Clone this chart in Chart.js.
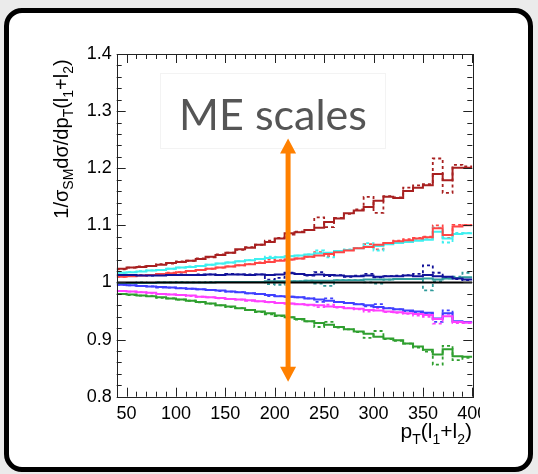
<!DOCTYPE html>
<html>
<head>
<meta charset="utf-8">
<script src="https://cdn.jsdelivr.net/npm/chart.js@4.4.1/dist/chart.umd.min.js"></script>
<style>
  html, body { margin: 0; padding: 0; }
  body { width: 538px; height: 474px; background: #ebebeb; position: relative; overflow: hidden;
         font-family: "Liberation Sans", Arial, sans-serif; }
  #frame { position: absolute; left: 4px; top: 8px; width: 519px; height: 454px;
           border: 5px solid #000; border-radius: 18px; background: #fff; }
  #plot { position: absolute; left: 0; top: 0; width: 480px; height: 474px; overflow: hidden; }
  #labelBox { position: absolute; left: 160px; top: 73px; width: 226px; height: 76px;
              border: 1px solid #f3f3f3; box-sizing: border-box; }
  #label { position: absolute; left: 160px; top: 89px; width: 226px; text-align: center;
           font-family: Lato, "Open Sans", sans-serif; font-size: 43px; line-height: 50px; color: #555; }
  #ytitle { position: absolute; left: -39px; top: 127px; width: 200px; text-align: center;
            font-size: 20px; line-height: 24px; transform: rotate(-90deg); white-space: nowrap; }
  #xtitle { position: absolute; right: 66px; top: 419px; font-size: 21px; line-height: 24px; white-space: nowrap; }
  sub { font-size: 14px; vertical-align: -5px; line-height: 0; }
  #xtitle sub { font-size: 14px; vertical-align: -6px; }
</style>
</head>
<body>
<div id="frame"></div>
<div id="labelBox"></div>
<div id="plot"><canvas id="chart" width="538" height="474"></canvas></div>
<div id="label">ME scales</div>
<div id="ytitle">1/σ<sub>SM</sub>dσ/dp<sub>T</sub>(l<sub>1</sub>+l<sub>2</sub>)</div>
<div id="xtitle">p<sub>T</sub>(l<sub>1</sub>+l<sub>2</sub>)</div>
<script>
// histogram binning: 36 bins of 10 GeV from 40 to 400
const binLow = 40;
const binWidth = 10;

const xTickVals = [50, 100, 150, 200, 250, 300, 350, 400];
const yTickVals = [0.8, 0.9, 1.0, 1.1, 1.2, 1.3, 1.4];

// ratio to SM, solid = nominal scale, dashed = varied
const darkRed = [1.024, 1.026, 1.027, 1.029, 1.031, 1.034, 1.036, 1.038, 1.041, 1.045, 1.048, 1.052,
  1.058, 1.061, 1.066, 1.071, 1.077, 1.086, 1.088, 1.092, 1.096, 1.106, 1.112, 1.121,
  1.126, 1.132, 1.143, 1.150, 1.148, 1.160, 1.166, 1.170, 1.190, 1.179, 1.201, 1.201];
const darkRedDash = [1.023, 1.026, 1.028, 1.029, 1.032, 1.033, 1.037, 1.038, 1.042, 1.044, 1.049, 1.052,
  1.057, 1.062, 1.066, 1.073, 1.078, 1.084, 1.089, 1.092, 1.114, 1.097, 1.113, 1.120,
  1.128, 1.150, 1.122, 1.151, 1.149, 1.166, 1.170, 1.172, 1.217, 1.157, 1.206, 1.203];

const red = [1.010, 1.011, 1.012, 1.013, 1.015, 1.016, 1.018, 1.020, 1.022, 1.024, 1.026, 1.028,
  1.030, 1.032, 1.034, 1.036, 1.038, 1.040, 1.042, 1.045, 1.047, 1.050, 1.053, 1.056,
  1.060, 1.062, 1.066, 1.069, 1.072, 1.074, 1.077, 1.079, 1.095, 1.083, 1.098, 1.100];
const redDash = [1.010, 1.011, 1.013, 1.013, 1.015, 1.017, 1.018, 1.020, 1.022, 1.024, 1.026, 1.028,
  1.030, 1.032, 1.035, 1.040, 1.039, 1.040, 1.042, 1.045, 1.053, 1.046, 1.053, 1.057,
  1.060, 1.067, 1.058, 1.069, 1.073, 1.076, 1.078, 1.080, 1.100, 1.078, 1.101, 1.101];

const cyan = [1.017, 1.018, 1.019, 1.021, 1.022, 1.024, 1.026, 1.027, 1.029, 1.031, 1.033, 1.035,
  1.037, 1.039, 1.041, 1.043, 1.044, 1.046, 1.047, 1.049, 1.051, 1.052, 1.055, 1.057,
  1.060, 1.063, 1.064, 1.067, 1.069, 1.071, 1.073, 1.075, 1.089, 1.077, 1.085, 1.086];
const cyanDash = [1.017, 1.018, 1.020, 1.021, 1.022, 1.024, 1.026, 1.028, 1.029, 1.031, 1.033, 1.035,
  1.037, 1.039, 1.041, 1.045, 1.044, 1.046, 1.047, 1.049, 1.056, 1.044, 1.055, 1.058,
  1.060, 1.069, 1.056, 1.067, 1.070, 1.072, 1.074, 1.076, 1.096, 1.070, 1.087, 1.087];

const navy = [1.013, 1.013, 1.012, 1.012, 1.012, 1.013, 1.013, 1.013, 1.013, 1.014, 1.013, 1.014,
  1.014, 1.013, 1.014, 1.013, 1.014, 1.016, 1.015, 1.013, 1.014, 1.013, 1.012, 1.011,
  1.011, 1.012, 1.010, 1.011, 1.011, 1.012, 1.011, 1.013, 1.011, 1.010, 1.007, 1.005];
const navyDash = [1.013, 1.012, 1.013, 1.012, 1.013, 1.013, 1.014, 1.013, 1.014, 1.014, 1.013, 1.015,
  1.014, 1.014, 1.014, 1.005, 1.008, 1.017, 1.015, 1.012, 1.018, 1.011, 1.013, 1.010,
  1.012, 1.015, 1.009, 1.011, 1.012, 1.013, 1.015, 1.030, 1.017, 1.008, 1.006, 1.004];

const teal = [0.999, 0.999, 0.999, 0.999, 1.000, 1.000, 1.000, 1.000, 1.000, 1.000, 1.001, 1.001,
  1.001, 1.001, 1.001, 1.002, 1.002, 1.002, 1.002, 1.003, 1.003, 1.003, 1.004, 1.004,
  1.004, 1.005, 1.005, 1.005, 1.006, 1.006, 1.006, 1.007, 1.005, 1.007, 1.008, 1.009];
const tealDash = [0.999, 0.999, 1.000, 0.999, 1.000, 1.000, 1.001, 1.000, 1.000, 1.001, 1.001, 1.001,
  1.001, 1.001, 1.001, 0.997, 0.996, 1.002, 1.002, 1.003, 0.998, 0.994, 1.004, 1.004,
  1.004, 1.000, 0.998, 1.005, 1.006, 1.006, 1.006, 0.986, 1.002, 1.007, 1.010, 1.017];

const sm = [1, 1, 1, 1, 1, 1, 1, 1, 1, 1, 1, 1, 1, 1, 1, 1, 1, 1,
  1, 1, 1, 1, 1, 1, 1, 1, 1, 1, 1, 1, 1, 1, 1, 1, 1, 1];

const blue = [0.996, 0.995, 0.994, 0.993, 0.992, 0.991, 0.990, 0.989, 0.988, 0.987, 0.986, 0.984,
  0.983, 0.981, 0.980, 0.978, 0.976, 0.975, 0.974, 0.972, 0.970, 0.968, 0.966, 0.964,
  0.962, 0.960, 0.957, 0.955, 0.953, 0.951, 0.949, 0.947, 0.937, 0.946, 0.932, 0.931];
const blueDash = [0.996, 0.995, 0.994, 0.993, 0.991, 0.991, 0.990, 0.989, 0.988, 0.987, 0.985, 0.984,
  0.983, 0.981, 0.980, 0.976, 0.976, 0.975, 0.974, 0.972, 0.966, 0.972, 0.966, 0.964,
  0.962, 0.958, 0.962, 0.955, 0.953, 0.950, 0.948, 0.946, 0.931, 0.951, 0.931, 0.930];

const magenta = [0.985, 0.984, 0.983, 0.982, 0.980, 0.979, 0.978, 0.977, 0.975, 0.974, 0.973, 0.971,
  0.970, 0.969, 0.967, 0.966, 0.964, 0.963, 0.962, 0.961, 0.960, 0.958, 0.957, 0.955,
  0.954, 0.952, 0.951, 0.949, 0.948, 0.946, 0.945, 0.943, 0.936, 0.941, 0.931, 0.930];
const magentaDash = [0.985, 0.984, 0.983, 0.981, 0.980, 0.979, 0.978, 0.976, 0.975, 0.974, 0.972, 0.971,
  0.970, 0.968, 0.967, 0.965, 0.964, 0.963, 0.962, 0.960, 0.957, 0.961, 0.956, 0.955,
  0.953, 0.949, 0.955, 0.948, 0.947, 0.945, 0.942, 0.940, 0.928, 0.945, 0.929, 0.929];

const green = [0.980, 0.979, 0.977, 0.976, 0.974, 0.972, 0.970, 0.968, 0.966, 0.963, 0.960, 0.958,
  0.955, 0.952, 0.949, 0.946, 0.942, 0.939, 0.936, 0.932, 0.929, 0.926, 0.922, 0.918,
  0.914, 0.910, 0.905, 0.902, 0.899, 0.893, 0.888, 0.882, 0.874, 0.883, 0.871, 0.870];
const greenDash = [0.980, 0.978, 0.977, 0.976, 0.973, 0.972, 0.970, 0.968, 0.965, 0.963, 0.960, 0.957,
  0.955, 0.952, 0.948, 0.944, 0.941, 0.939, 0.935, 0.932, 0.922, 0.931, 0.921, 0.918,
  0.913, 0.903, 0.915, 0.901, 0.898, 0.893, 0.886, 0.879, 0.856, 0.889, 0.864, 0.868];

// orange arrow annotation (data coords)
const arrowX = 213.5;
const arrowTop = 1.252;
const arrowBottom = 0.826;

function steps(vals) {
  const pts = vals.map((v, i) => ({x: binLow + i * binWidth, y: v}));
  pts.push({x: binLow + vals.length * binWidth, y: vals[vals.length - 1]});
  return pts;
}

function hist(vals, color, dashed, order) {
  return {
    data: steps(vals),
    borderColor: color,
    borderWidth: dashed ? 1.8 : 2,
    borderDash: dashed ? [3, 3] : [],
    stepped: true,
    pointRadius: 0,
    fill: false,
    order: order
  };
}

// ROOT-style frame: box with inward ticks on all four sides
const frameTicks = {
  id: 'frameTicks',
  afterDatasetsDraw(chart) {
    const {ctx, chartArea: a, scales: {x, y}} = chart;
    ctx.save();
    ctx.strokeStyle = '#222';
    ctx.lineWidth = 1;
    ctx.beginPath();
    for (let v = 40; v <= 400; v += 10) {
      const px = Math.round(x.getPixelForValue(v)) + 0.5;
      const len = v % 50 === 0 ? 9 : 5;
      ctx.moveTo(px, a.bottom); ctx.lineTo(px, a.bottom - len);
      ctx.moveTo(px, a.top); ctx.lineTo(px, a.top + len);
    }
    for (let k = 0; k <= 30; k++) {
      const v = 0.8 + k * 0.02;
      const py = Math.round(y.getPixelForValue(v)) + 0.5;
      const len = k % 5 === 0 ? 9 : 5;
      ctx.moveTo(a.left, py); ctx.lineTo(a.left + len, py);
      ctx.moveTo(a.right, py); ctx.lineTo(a.right - len, py);
    }
    ctx.stroke();
    ctx.strokeRect(Math.round(a.left) + 0.5, Math.round(a.top) + 0.5,
      Math.round(a.right - a.left), Math.round(a.bottom - a.top));

    // orange double arrow
    const ax = x.getPixelForValue(arrowX);
    const t = y.getPixelForValue(arrowTop);
    const b = y.getPixelForValue(arrowBottom);
    const head = 15, half = 8;
    ctx.fillStyle = '#ff8000';
    ctx.fillRect(ax - 2.5, t + head - 1, 5, b - t - 2 * head + 2);
    ctx.beginPath();
    ctx.moveTo(ax, t); ctx.lineTo(ax + half, t + head); ctx.lineTo(ax - half, t + head); ctx.closePath();
    ctx.moveTo(ax, b); ctx.lineTo(ax + half, b - head); ctx.lineTo(ax - half, b - head); ctx.closePath();
    ctx.fill();
    ctx.restore();
  }
};

const tickFont = {family: '"Liberation Sans", Arial, sans-serif', size: 18};

new Chart(document.getElementById('chart'), {
  type: 'line',
  data: {
    datasets: [
      hist(darkRedDash, '#a82020', true, 20),
      hist(redDash, '#ff4545', true, 19),
      hist(cyanDash, '#3ff0f0', true, 18),
      hist(navyDash, '#121299', true, 17),
      hist(tealDash, '#2f9a9a', true, 16),
      hist(blueDash, '#4040ff', true, 15),
      hist(magentaDash, '#ff40ff', true, 14),
      hist(greenDash, '#2f9f2f', true, 13),
      hist(cyan, '#3ff0f0', false, 12),
      hist(red, '#ff4545', false, 11),
      hist(darkRed, '#a82020', false, 10),
      hist(teal, '#2f9a9a', false, 9),
      hist(blue, '#4040ff', false, 8),
      hist(magenta, '#ff40ff', false, 7),
      hist(green, '#2f9f2f', false, 6),
      hist(sm, '#000000', false, 5),
      hist(navy, '#121299', false, 4)
    ]
  },
  options: {
    responsive: false,
    animation: false,
    events: [],
    layout: {padding: {left: 0, top: 54, right: 65.7, bottom: 0}},
    plugins: {legend: {display: false}, tooltip: {enabled: false}},
    scales: {
      x: {
        type: 'linear',
        min: 40,
        max: 400,
        grid: {display: false, drawTicks: false},
        border: {display: false},
        ticks: {font: tickFont, color: '#000', padding: 7, maxRotation: 0, autoSkip: false},
        afterBuildTicks: ax => { ax.ticks = xTickVals.map(v => ({value: v})); },
        afterFit: s => { s.height = 77.3; }
      },
      y: {
        type: 'linear',
        min: 0.8,
        max: 1.4,
        grid: {display: false, drawTicks: false},
        border: {display: false},
        ticks: {font: tickFont, color: '#000', padding: 5,
          callback: v => String(+v.toFixed(1))},
        afterBuildTicks: ax => { ax.ticks = yTickVals.map(v => ({value: v})); },
        afterFit: s => { s.width = 116.7; }
      }
    }
  },
  plugins: [frameTicks]
});
</script>
</body>
</html>
